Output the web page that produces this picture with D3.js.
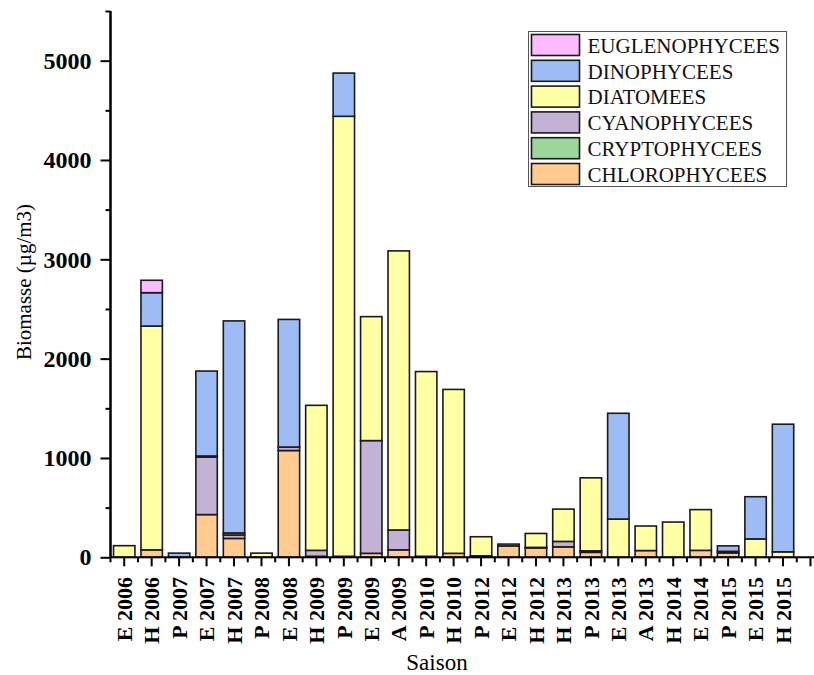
<!DOCTYPE html>
<html>
<head>
<meta charset="utf-8">
<script src="https://cdn.jsdelivr.net/npm/d3@7"></script>
<style>
  body { margin: 0; background: #fff; }
  svg { display: block; }
</style>
</head>
<body>
<script>
// seasons on the x axis
var saisons = ["E 2006","H 2006","P 2007","E 2007","H 2007","P 2008","E 2008","H 2009","P 2009","E 2009",
  "A 2009","P 2010","H 2010","P 2012","E 2012","H 2012","H 2013","P 2013","E 2013","A 2013",
  "H 2014","E 2014","P 2015","E 2015","H 2015"];

// biomass per group (ug/m3)
var chlorophycees  = [0, 75, 0, 430, 190, 0, 1075, 10, 10, 40, 75, 10, 40, 15, 115, 95, 105, 50, 0, 68, 0, 70, 45, 0, 0];
var cryptophycees  = [0, 0, 0, 0, 0, 0, 0, 0, 0, 0, 0, 0, 0, 0, 0, 0, 0, 0, 0, 0, 0, 0, 0, 0, 0];
var cyanophycees   = [0, 0, 0, 580, 35, 0, 35, 60, 0, 1135, 200, 0, 0, 0, 0, 5, 55, 15, 0, 0, 0, 0, 0, 0, 0];
var diatomees      = [117, 2253, 0, 10, 20, 42, 0, 1460, 4430, 1248, 2810, 1860, 1650, 192, 18, 140, 325, 735, 385, 247, 355, 410, 15, 185, 55];
var dinophycees    = [0, 336, 42, 855, 2135, 0, 1285, 0, 435, 0, 0, 0, 0, 0, 0, 0, 0, 0, 1065, 0, 0, 0, 55, 425, 1285];
var euglenophycees = [0, 125, 0, 0, 0, 0, 0, 0, 0, 0, 0, 0, 0, 0, 0, 0, 0, 0, 0, 0, 0, 0, 0, 0, 0];

var groupes = ["CHLOROPHYCEES","CRYPTOPHYCEES","CYANOPHYCEES","DIATOMEES","DINOPHYCEES","EUGLENOPHYCEES"];
var couleurs = ["#ffcb8e","#9dd69b","#c4b1d6","#ffffa4","#9dbbf5","#ffbbff"];
var yTicks = [0, 1000, 2000, 3000, 4000, 5000];

var series = [chlorophycees, cryptophycees, cyanophycees, diatomees, dinophycees, euglenophycees];

var rows = saisons.map(function(s, i) {
  var r = { saison: s };
  groupes.forEach(function(g, k) { r[g] = series[k][i]; });
  return r;
});

var width = 814, height = 675;
var plotLeft = 110.5, plotBottom = 557.3, plotTop = 11;

var svg = d3.select("body")
  .append("svg")
  .attr("width", width)
  .attr("height", height)
  .style("font-family", "'Liberation Serif', 'Times New Roman', serif");

var x = d3.scaleBand()
  .domain(saisons)
  .range([plotLeft, plotLeft + 27.45 * saisons.length])
  .paddingInner(0.22)
  .paddingOuter(0.11);

var y = d3.scaleLinear()
  .domain([0, 5500])
  .range([plotBottom, plotTop]);

var stack = d3.stack().keys(groupes)(rows);

/* bars, stacked from chlorophycees at the bottom */
var layer = svg.selectAll("g.layer")
  .data(stack)
  .enter()
  .append("g")
  .attr("class", "layer")
  .attr("fill", function(d, i) { return couleurs[i]; });

layer.selectAll("rect")
  .data(function(d) { return d.filter(function(p) { return p[1] - p[0] > 0; }); })
  .enter()
  .append("rect")
  .attr("x", function(d) { return x(d.data.saison); })
  .attr("width", x.bandwidth())
  .attr("y", function(d) { return y(d[1]); })
  .attr("height", function(d) { return y(d[0]) - y(d[1]); })
  .attr("stroke", "#1a1a1a")
  .attr("stroke-width", 1.6);

/* y axis with minor ticks every 500 */
var yAxis = svg.append("g")
  .attr("transform", "translate(" + plotLeft + ",0)");

yAxis.call(d3.axisLeft(y).tickValues(d3.range(500, 5501, 1000)).tickSize(5).tickFormat(""));
yAxis.append("g").call(d3.axisLeft(y).tickValues(yTicks).tickSize(10).tickPadding(9).tickFormat(d3.format("d")));
yAxis.selectAll("path.domain").attr("d", "M0," + plotTop + "V" + plotBottom);
yAxis.selectAll("line").attr("stroke", "#000").attr("stroke-width", 2);
yAxis.selectAll("path").attr("stroke", "#000").attr("stroke-width", 2);
yAxis.selectAll("text")
  .attr("fill", "#000")
  .style("font-size", "24px")
  .style("font-weight", "bold")
  .style("font-family", "'Liberation Serif', serif");

/* x axis: major ticks at each season, minor at band edges */
var xAxis = svg.append("g")
  .attr("transform", "translate(0," + plotBottom + ")");

xAxis.call(d3.axisBottom(x).tickSize(9).tickFormat(""));
xAxis.select("path.domain").attr("d", "M" + plotLeft + ",0H" + width);

var step = x.step();
var edges = d3.range(saisons.length + 1).map(function(i) { return x.range()[0] + i * step; });
xAxis.selectAll("line.minor")
  .data(edges)
  .enter()
  .append("line")
  .attr("class", "minor")
  .attr("x1", function(d) { return d; })
  .attr("x2", function(d) { return d; })
  .attr("y2", 5);
// axis keeps going past the last season
xAxis.append("line")
  .attr("x1", x.range()[1] + step / 2)
  .attr("x2", x.range()[1] + step / 2)
  .attr("y2", 9);

xAxis.selectAll("line").attr("stroke", "#000").attr("stroke-width", 2);
xAxis.selectAll("path").attr("stroke", "#000").attr("stroke-width", 2);

svg.append("g")
  .selectAll("text")
  .data(saisons)
  .enter()
  .append("text")
  .attr("transform", function(d) {
    return "translate(" + (x(d) + x.bandwidth() / 2) + ",577) rotate(-90)";
  })
  .attr("text-anchor", "end")
  .attr("dy", "0.35em")
  .style("font-size", "22px")
  .style("font-weight", "bold")
  .text(function(d) { return d; });

/* axis titles */
svg.append("text")
  .attr("x", 437)
  .attr("y", 670)
  .attr("text-anchor", "middle")
  .style("font-size", "23px")
  .text("Saison");

svg.append("text")
  .attr("transform", "translate(31,282) rotate(-90)")
  .attr("text-anchor", "middle")
  .style("font-size", "21px")
  .text("Biomasse (\u00b5g/m3)");

/* legend, top to bottom is reverse of stack order */
var legend = svg.append("g").attr("transform", "translate(528.5,31.5)");

legend.append("rect")
  .attr("width", 258)
  .attr("height", 155)
  .attr("fill", "#fff")
  .attr("stroke", "#555")
  .attr("stroke-width", 1);

var item = legend.selectAll("g.item")
  .data(groupes.slice().reverse())
  .enter()
  .append("g")
  .attr("class", "item")
  .attr("transform", function(d, i) { return "translate(0," + (3 + i * 25.8) + ")"; });

item.append("rect")
  .attr("x", 3)
  .attr("width", 48)
  .attr("height", 21)
  .attr("fill", function(d) { return couleurs[groupes.indexOf(d)]; })
  .attr("stroke", "#1a1a1a")
  .attr("stroke-width", 1.6);

item.append("text")
  .attr("x", 59)
  .attr("y", 11)
  .attr("dy", "0.35em")
  .style("font-size", "21px")
  .attr("fill", "#111")
  .text(function(d) { return d; });
</script>
</body>
</html>
